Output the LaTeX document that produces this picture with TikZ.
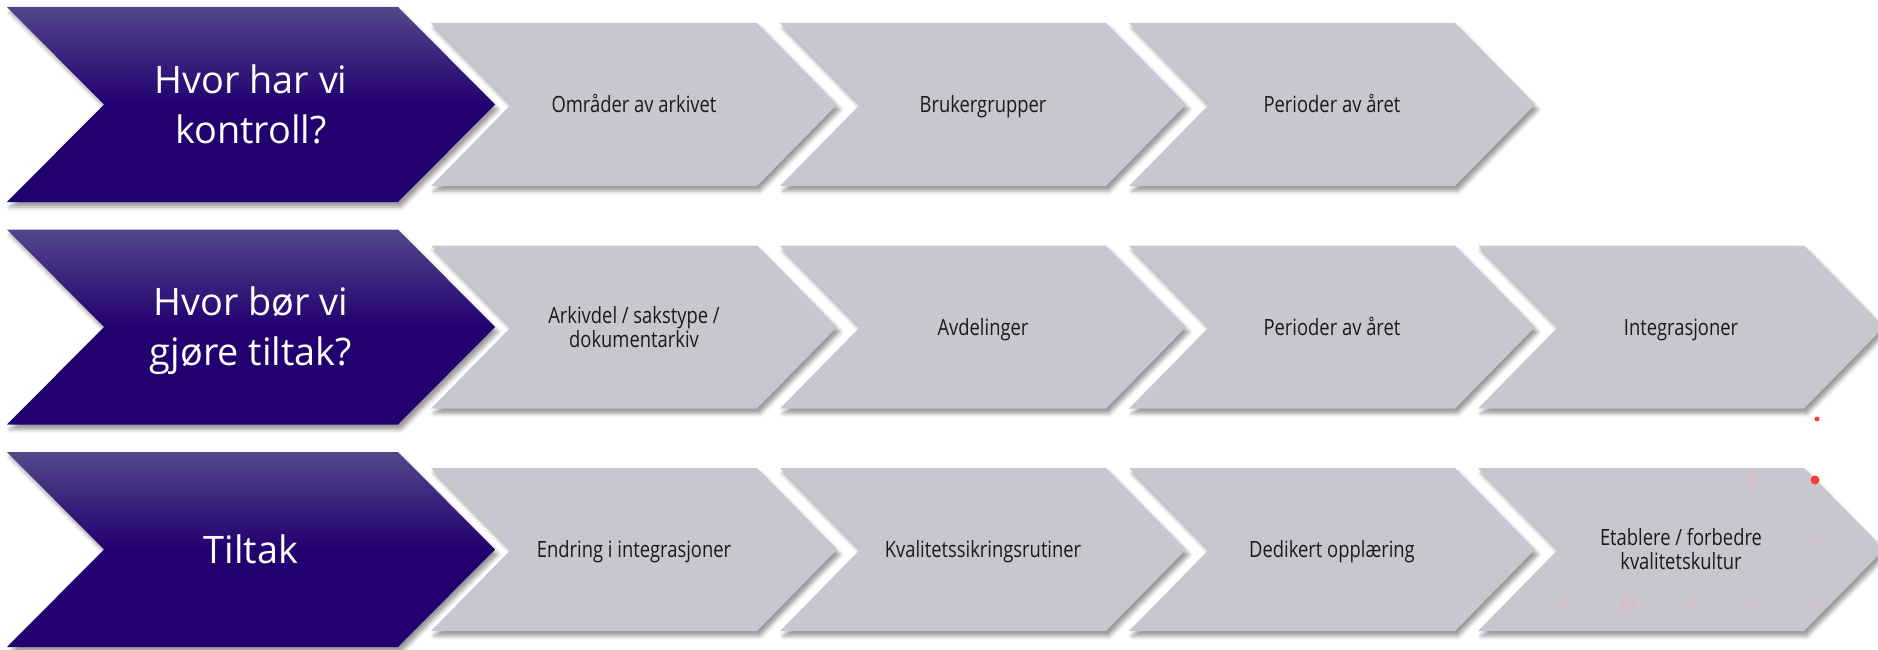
\documentclass[tikz,border=0pt]{standalone}
\usepackage{fontspec}
\setmainfont{Open Sans}
\newfontfamily\greyfont[FakeStretch=0.82]{Open Sans}
\usetikzlibrary{shadows.blur}
\definecolor{pLight}{HTML}{51478A}
\definecolor{pDark}{HTML}{230070}
\definecolor{gFill}{HTML}{C8C7D0}
\definecolor{gTxt}{HTML}{1A1A1A}
\definecolor{dotRed}{HTML}{FF3B30}
\definecolor{dotPink}{HTML}{D4BFC9}
\tikzset{
  shadowed/.style={blur shadow={shadow xshift=3bp, shadow yshift=-5bp, shadow blur radius=4bp, shadow opacity=40}},
  purplechev/.style={shadowed, top color=pLight, bottom color=pDark, middle color=pDark},
  greychev/.style={shadowed, fill=gFill},
  ptext/.style={text=white, font=\fontsize{38}{50}\selectfont, align=center, inner sep=0pt, text height=27.1bp, text depth=0pt},
  ptwo/.style={ptext, text height=77.1bp},
  gtext/.style={text=gTxt, font=\greyfont\fontsize{22.5}{24}\selectfont, align=center, inner sep=0pt, text height=16.1bp, text depth=0pt},
  gtwo/.style={gtext, text height=40.1bp},
}
% x, yc, w, h, d, style
\newcommand\chevshape[6]{%
  \path[#6] (#1,#2-#4/2) -- (#1+#3-#5,#2-#4/2) -- (#1+#3,#2) -- (#1+#3-#5,#2+#4/2) -- (#1,#2+#4/2) -- (#1+#5,#2) -- cycle;}
\begin{document}
\begin{tikzpicture}[x=1bp,y=-1bp]
\useasboundingbox (0,0) rectangle (1878,650);
% row 1
\chevshape{7}{104.5}{488}{195}{97}{purplechev}
\chevshape{431}{104.5}{406}{163}{80}{greychev}
\chevshape{780}{104.5}{406}{163}{80}{greychev}
\chevshape{1129}{104.5}{406}{163}{80}{greychev}
\node[ptwo] (p1) at (251,104.5) {Hvor har vi\\kontroll?};
\node[gtext] (a1) at (634,104.5) {Områder av arkivet};
\node[gtext] (a2) at (983,104.5) {Brukergrupper};
\node[gtext] (a3) at (1332,104.5) {Perioder av året};
% row 2
\chevshape{7}{327}{488}{195}{97}{purplechev}
\chevshape{431}{327}{406}{163}{80}{greychev}
\chevshape{780}{327}{406}{163}{80}{greychev}
\chevshape{1129}{327}{406}{163}{80}{greychev}
\chevshape{1478}{327}{406}{163}{80}{greychev}
\node[ptwo] (p2) at (251,327) {Hvor bør vi\\gjøre tiltak?};
\node[gtwo] (b1) at (634,327) {Arkivdel / sakstype /\\dokumentarkiv};
\node[gtext] (b2) at (983,327) {Avdelinger};
\node[gtext] (b3) at (1332,327) {Perioder av året};
\node[gtext] (b4) at (1681,327) {Integrasjoner};
% row 3
\chevshape{7}{549.5}{488}{195}{97}{purplechev}
\chevshape{431}{549.5}{406}{163}{80}{greychev}
\chevshape{780}{549.5}{406}{163}{80}{greychev}
\chevshape{1129}{549.5}{406}{163}{80}{greychev}
\chevshape{1478}{549.5}{406}{163}{80}{greychev}
\node[ptext] (p3) at (251,549.5) {Tiltak};
\node[gtext] (c1) at (634,549.5) {Endring i integrasjoner};
\node[gtext] (c2) at (983,549.5) {Kvalitetssikringsrutiner};
\node[gtext] (c3) at (1332,549.5) {Dedikert opplæring};
\node[gtwo] (c4) at (1681,549.5) {Etablere / forbedre\\kvalitetskultur};
% dots
\fill[dotRed] (1817,419) circle (2.5);
\fill[dotRed] (1815,480) circle (4.5);
\fill[dotPink] (1753,480) circle (7);
\fill[dotPink] (1565,603) circle (5);
\fill[dotPink] (1628,603) circle (7.5);
\fill[dotPink] (1691,603) circle (5);
\fill[dotPink] (1753,603) circle (2.5);
\fill[dotPink] (1817,603) circle (2.5);
\fill[dotPink] (1817,541) circle (2.5);
\end{tikzpicture}
\end{document}
